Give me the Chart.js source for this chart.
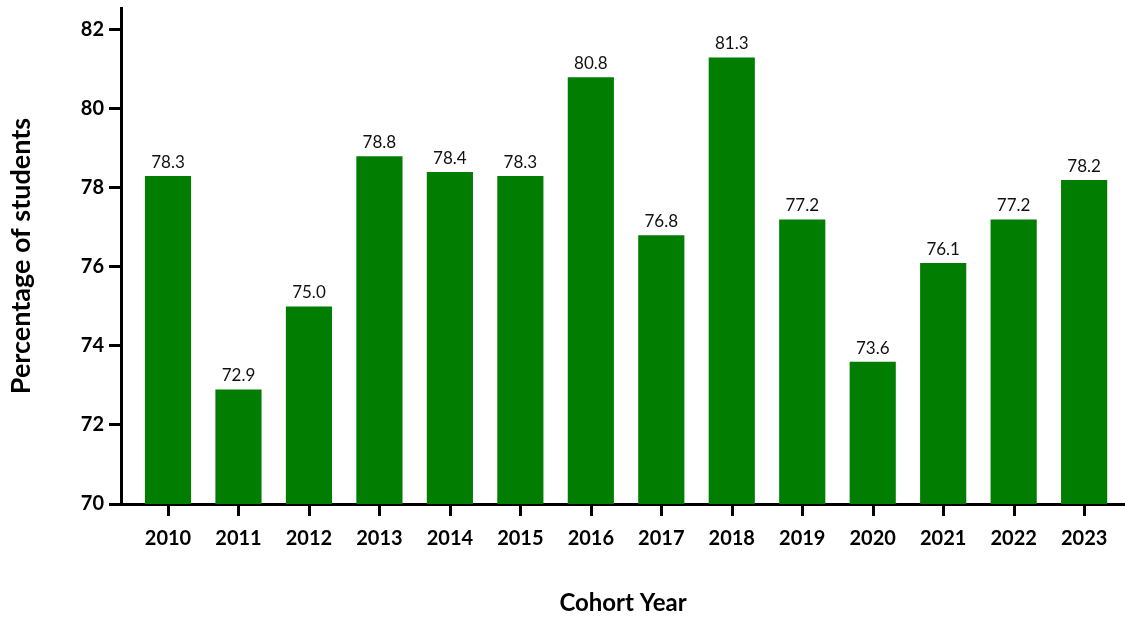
<!DOCTYPE html>
<html>
<head>
<meta charset="utf-8">
<script src="https://cdn.jsdelivr.net/npm/chart.js@4.4.1/dist/chart.umd.min.js"></script>
<style>
  html, body { margin: 0; padding: 0; background: #fff; }
  #wrap { width: 1125px; height: 618px; }
</style>
</head>
<body>
<div id="wrap"><canvas id="grafico" width="1125" height="618"></canvas></div>
<script>
  // datos
  const years = [2010, 2011, 2012, 2013, 2014, 2015, 2016, 2017, 2018, 2019, 2020, 2021, 2022, 2023];
  const percentages = [78.3, 72.9, 75.0, 78.8, 78.4, 78.3, 80.8, 76.8, 81.3, 77.2, 73.6, 76.1, 77.2, 78.2];
  const yTicks = [70, 72, 74, 76, 78, 80, 82];

  const fuente = "Lato, 'Open Sans', sans-serif";
  const verde = "#017d01";

  // etiquetas de valor encima de cada barra + marcas del eje x
  const etiquetasBarras = {
    id: "etiquetasBarras",
    afterDatasetsDraw(chart) {
      const ctx = chart.ctx;
      const meta = chart.getDatasetMeta(0);
      ctx.save();
      ctx.font = "17px " + fuente;
      ctx.fillStyle = "#111";
      ctx.textAlign = "center";
      ctx.textBaseline = "bottom";
      meta.data.forEach((bar, i) => {
        ctx.fillText(percentages[i].toFixed(1), bar.x, bar.y - 5);
      });

      // marcas bajo el eje x, centradas en cada año
      const sx = chart.scales.x;
      ctx.strokeStyle = "#000";
      ctx.lineWidth = 3;
      years.forEach((y) => {
        const px = Math.round(sx.getPixelForValue(y)) + 0.5;
        ctx.beginPath();
        ctx.moveTo(px, sx.top);
        ctx.lineTo(px, sx.top + 12);
        ctx.stroke();
      });
      ctx.restore();
    },
  };

  new Chart(document.getElementById("grafico"), {
    type: "bar",
    data: {
      datasets: [
        {
          data: years.map((y, i) => ({ x: y, y: percentages[i] })),
          backgroundColor: verde,
          borderWidth: 0,
          categoryPercentage: 1,
          barPercentage: 0.655,
        },
      ],
    },
    options: {
      responsive: false,
      animation: false,
      devicePixelRatio: 1,
      layout: { padding: { top: 8, left: 0, right: 0, bottom: 0 } },
      plugins: {
        legend: { display: false },
        tooltip: { enabled: false },
      },
      scales: {
        x: {
          type: "linear",
          min: 2009.333,
          max: 2023.58,
          offset: false,
          afterBuildTicks: (s) => { s.ticks = years.map((v) => ({ value: v })); },
          afterFit: (s) => {
            s.height = 114;
            s.paddingLeft = 0;
            s.paddingRight = 0;
          },
          border: { color: "#000", width: 3 },
          grid: { display: false, drawOnChartArea: false, drawTicks: true, tickLength: 12 },
          ticks: {
            autoSkip: false,
            maxRotation: 0,
            padding: 11,
            color: "#000",
            font: { family: fuente, size: 20, weight: "bold" },
            callback: (v) => String(v),
          },
          title: {
            display: true,
            text: "Cohort Year",
            color: "#000",
            font: { family: fuente, size: 24, weight: "bold" },
            padding: { top: 0, bottom: 0 },
          },
        },
        y: {
          min: 70,
          max: 82.55,
          afterBuildTicks: (s) => { s.ticks = yTicks.map((v) => ({ value: v })); },
          afterFit: (s) => {
            s.width = 121;
            s.paddingTop = 0;
            s.paddingBottom = 0;
          },
          border: { color: "#000", width: 3 },
          grid: { drawOnChartArea: false, drawTicks: true, tickLength: 12, color: "#000", lineWidth: 3 },
          ticks: {
            padding: 5,
            color: "#000",
            font: { family: fuente, size: 20, weight: "bold" },
          },
          title: {
            display: true,
            text: "Percentage of students",
            color: "#000",
            font: { family: fuente, size: 27, weight: "bold" },
            padding: { top: 5, bottom: 0 },
          },
        },
      },
    },
    plugins: [etiquetasBarras],
  });
</script>
</body>
</html>
